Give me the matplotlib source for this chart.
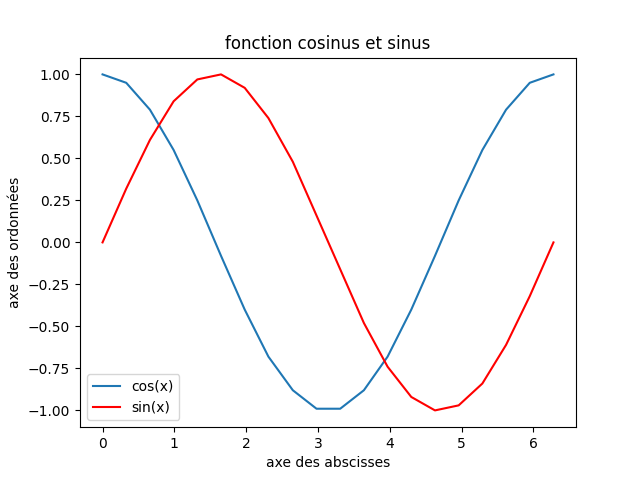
import matplotlib
matplotlib.use("Agg")
import matplotlib.pyplot as plt

# values
x = [0.00, 0.33, 0.66, 0.99, 1.32, 1.65, 1.98, 2.31, 2.65, 2.98,
     3.31, 3.64, 3.97, 4.30, 4.63, 4.96, 5.29, 5.62, 5.95, 6.28]
cos_vals = [1.00, 0.95, 0.79, 0.55, 0.25, -0.08, -0.40, -0.68, -0.88, -0.99,
            -0.99, -0.88, -0.68, -0.40, -0.08, 0.25, 0.55, 0.79, 0.95, 1.00]
sin_vals = [0.00, 0.32, 0.61, 0.84, 0.97, 1.00, 0.92, 0.74, 0.48, 0.16,
            -0.16, -0.48, -0.74, -0.92, -1.00, -0.97, -0.84, -0.61, -0.32, 0.00]

fig, ax = plt.subplots(figsize=(6.4, 4.8), dpi=100)
ax.plot(x, cos_vals, label="cos(x)")
ax.plot(x, sin_vals, color="red", label="sin(x)")
ax.set_title("fonction cosinus et sinus")
ax.set_xlabel("axe des abscisses")
ax.set_ylabel("axe des ordonnées")
ax.legend(loc="lower left")
fig.savefig("out.png")
